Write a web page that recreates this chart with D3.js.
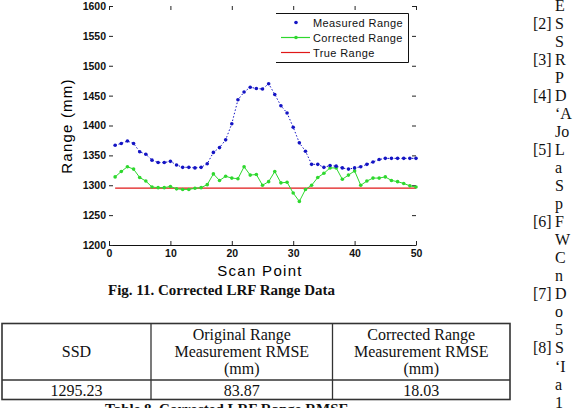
<!DOCTYPE html>
<html>
<head>
<meta charset="utf-8">
<script src="https://cdn.jsdelivr.net/npm/d3@7"></script>
<style>
  body { margin: 0; background: #fff; }
  svg { display: block; }
  .tick-lbl { font-family: "Liberation Sans", Arial, sans-serif; font-size: 10.5px; font-weight: bold; fill: #111; }
  .ax-title { font-family: "Liberation Sans", Arial, sans-serif; font-size: 15px; fill: #000; }
  .serif { font-family: "Liberation Serif", "Times New Roman", serif; fill: #111; }
</style>
</head>
<body>
<svg id="page" width="576" height="408"></svg>
<script>
// scan point index
const scanPoints = d3.range(1, 51);

// Measured Range (mm)
const measured = [1367, 1370, 1374, 1370, 1356, 1352, 1342, 1338, 1338, 1340,
                  1334, 1330, 1330, 1329, 1330, 1336, 1355, 1363, 1376, 1403,
                  1443, 1456, 1464, 1462, 1461, 1470, 1452, 1433, 1421, 1397,
                  1371, 1357, 1335, 1335, 1330, 1333, 1332, 1329, 1327, 1329,
                  1331, 1335, 1339, 1343, 1345, 1345, 1345, 1345, 1345, 1345];

// Corrected Range (mm)
const corrected = [1314, 1323, 1331, 1327, 1313, 1307, 1297, 1296, 1296, 1298,
                   1294, 1293, 1293, 1295, 1296, 1301, 1319, 1308, 1315, 1312,
                   1311, 1331, 1317, 1318, 1300, 1306, 1323, 1304, 1305, 1287,
                   1273, 1293, 1300, 1313, 1320, 1329, 1329, 1310, 1317, 1324,
                   1300, 1307, 1312, 1312, 1314, 1308, 1306, 1303, 1299, 1297];

const trueRange = 1295.23;

const xTicks = [0, 10, 20, 30, 40, 50];
const yTicks = [1200, 1250, 1300, 1350, 1400, 1450, 1500, 1550, 1600];

const legendLabels = ['Measured Range', 'Corrected Range', 'True Range'];

const figCaption = 'Fig. 11. Corrected LRF Range Data';
const tableHeader = [['SSD'], ['Original Range', 'Measurement RMSE', '(mm)'], ['Corrected Range', 'Measurement RMSE', '(mm)']];
const tableRow = ['1295.23', '83.87', '18.03'];
const tableCaption = 'Table 8. Corrected LRF Range RMSE';

// right column of the page (cut off)
const refNums = ['', '[2]', '', '[3]', '', '[4]', '', '', '[5]', '', '', '', '[6]', '', '', '', '[7]', '', '', '[8]', '', '', ''];
const refText = ['E', 'S', 'S', 'R', 'P', 'D', '\u2018A', 'Jo', 'L', 'a', 'S', 'p', 'F', 'W', 'C', 'n', 'D', 'o', '5', 'S', '\u2018I', 'a', '1'];

const svg = d3.select('#page');

const blue = '#1414c4';
const green = '#2ed82e';
const red = '#e01818';

const xScale = d3.scaleLinear().domain([0, 50]).range([109, 416]);
const yScale = d3.scaleLinear().domain([1200, 1600]).range([245, 6]);

const g = svg.append('g').attr('class', 'chart');

// axes: inward ticks, only bottom line shows
const xAxis = d3.axisBottom(xScale).tickValues(xTicks).tickSize(-4).tickSizeOuter(0).tickPadding(5);
const yAxis = d3.axisLeft(yScale).tickValues(yTicks).tickFormat(d3.format('d'))
  .tickSize(-4).tickSizeOuter(0).tickPadding(3);

const xAxisG = g.append('g')
  .attr('transform', `translate(0,${yScale(1200)})`)
  .call(xAxis);
xAxisG.select('.domain').attr('stroke', '#111');

const yAxisG = g.append('g')
  .attr('transform', `translate(${xScale(0)},0)`)
  .call(yAxis);
yAxisG.select('.domain').remove();

g.append('g')
  .attr('transform', `translate(0,${yScale(1600)})`)
  .call(d3.axisTop(xScale).tickValues(xTicks).tickSize(-4).tickSizeOuter(0).tickFormat(''))
  .select('.domain').remove();

g.append('g')
  .attr('transform', `translate(${xScale(50)},0)`)
  .call(d3.axisRight(yScale).tickValues(yTicks).tickSize(-4).tickSizeOuter(0).tickFormat(''))
  .select('.domain').remove();

g.selectAll('.tick line').attr('stroke', '#222');
g.selectAll('.tick text').attr('class', 'tick-lbl').attr('font-family', null).attr('font-size', null);

g.append('text')
  .attr('class', 'ax-title')
  .attr('transform', 'translate(72,126) rotate(-90)')
  .attr('text-anchor', 'middle')
  .attr('letter-spacing', 1.2)
  .text('Range (mm)');

g.append('text')
  .attr('class', 'ax-title')
  .attr('x', 260)
  .attr('y', 275.5)
  .attr('text-anchor', 'middle')
  .attr('letter-spacing', 1.3)
  .text('Scan Point');

// series
const line = d3.line()
  .x((d, i) => xScale(scanPoints[i]))
  .y(d => yScale(d));

g.append('line')
  .attr('x1', xScale(1)).attr('x2', xScale(50))
  .attr('y1', yScale(trueRange)).attr('y2', yScale(trueRange))
  .attr('stroke', red).attr('stroke-width', 1.4);

g.append('path')
  .datum(corrected)
  .attr('d', line)
  .attr('fill', 'none')
  .attr('stroke', green)
  .attr('stroke-width', 1);

g.selectAll('.cdot').data(corrected).enter().append('circle')
  .attr('class', 'cdot')
  .attr('cx', (d, i) => xScale(scanPoints[i]))
  .attr('cy', d => yScale(d))
  .attr('r', 1.8)
  .attr('fill', green);

g.append('path')
  .datum(measured)
  .attr('d', line)
  .attr('fill', 'none')
  .attr('stroke', blue)
  .attr('stroke-width', 1)
  .attr('stroke-dasharray', '1.5,2');

g.selectAll('.mdot').data(measured).enter().append('circle')
  .attr('class', 'mdot')
  .attr('cx', (d, i) => xScale(scanPoints[i]))
  .attr('cy', d => yScale(d))
  .attr('r', 1.8)
  .attr('fill', blue);

// legend
const legend = g.append('g').attr('class', 'legend');
legend.append('path')
  .attr('d', 'M276,13.5H408.5V62.5H276')
  .attr('fill', 'none')
  .attr('stroke', '#111')
  .attr('stroke-width', 1);

const legendColors = [blue, green, red];
const items = legend.selectAll('.item').data(legendLabels).enter().append('g')
  .attr('class', 'item')
  .attr('transform', (d, i) => `translate(0,${22.5 + i * 15})`);

items.filter((d, i) => i > 0).append('line')
  .attr('x1', 281).attr('x2', 310)
  .attr('stroke', (d, i) => legendColors[i + 1])
  .attr('stroke-width', 1.2);

items.filter((d, i) => i < 2).append('circle')
  .attr('cx', 296).attr('r', 1.8)
  .attr('fill', (d, i) => legendColors[i]);

items.append('text')
  .attr('x', 313)
  .attr('y', 4)
  .attr('font-family', '"Liberation Sans", Arial, sans-serif')
  .attr('font-size', 11)
  .attr('letter-spacing', 0.4)
  .attr('fill', '#111')
  .text(d => d);

// caption
svg.append('text')
  .attr('class', 'serif')
  .attr('x', 108).attr('y', 295)
  .attr('font-size', 15).attr('font-weight', 'bold')
  .text(figCaption);

// table
const colX = [2, 151, 332.5, 510];
const tTop = 323.5, tHead = 380, tBot = 399.5;
const tbl = svg.append('g').attr('class', 'table');

tbl.append('rect')
  .attr('x', colX[0]).attr('y', tTop)
  .attr('width', colX[3] - colX[0]).attr('height', tBot - tTop)
  .attr('fill', 'none').attr('stroke', '#333').attr('stroke-width', 1.6);
tbl.append('line')
  .attr('x1', colX[0]).attr('x2', colX[3]).attr('y1', tHead).attr('y2', tHead)
  .attr('stroke', '#333').attr('stroke-width', 1.3);
tbl.selectAll('.sep').data([colX[1], colX[2]]).enter().append('line')
  .attr('x1', d => d).attr('x2', d => d).attr('y1', tTop).attr('y2', tBot)
  .attr('stroke', '#333').attr('stroke-width', 1.3);

tableHeader.forEach((lines, c) => {
  const cx = (colX[c] + colX[c + 1]) / 2;
  const startY = lines.length === 1 ? 356.5 : 339.5;
  tbl.selectAll(`.h${c}`).data(lines).enter().append('text')
    .attr('class', 'serif')
    .attr('x', cx).attr('y', (d, i) => startY + i * 17)
    .attr('text-anchor', 'middle')
    .attr('font-size', 16)
    .text(d => d);
});

tbl.selectAll('.cell').data(tableRow).enter().append('text')
  .attr('class', 'serif')
  .attr('x', (d, i) => (colX[i] + colX[i + 1]) / 2)
  .attr('y', 395.5)
  .attr('text-anchor', 'middle')
  .attr('font-size', 16)
  .text(d => d);

svg.append('text')
  .attr('class', 'serif')
  .attr('x', 105).attr('y', 414)
  .attr('font-size', 15).attr('font-weight', 'bold')
  .text(tableCaption);

// references column
const refs = svg.append('g').attr('class', 'refs');
refs.selectAll('.num').data(refNums).enter().append('text')
  .attr('class', 'serif')
  .attr('x', 533).attr('y', (d, i) => 10.5 + i * 18.05)
  .attr('font-size', 16)
  .text(d => d);
refs.selectAll('.txt').data(refText).enter().append('text')
  .attr('class', 'serif')
  .attr('x', 555).attr('y', (d, i) => 10.5 + i * 18.05)
  .attr('font-size', 16)
  .text(d => d);
</script>
</body>
</html>
